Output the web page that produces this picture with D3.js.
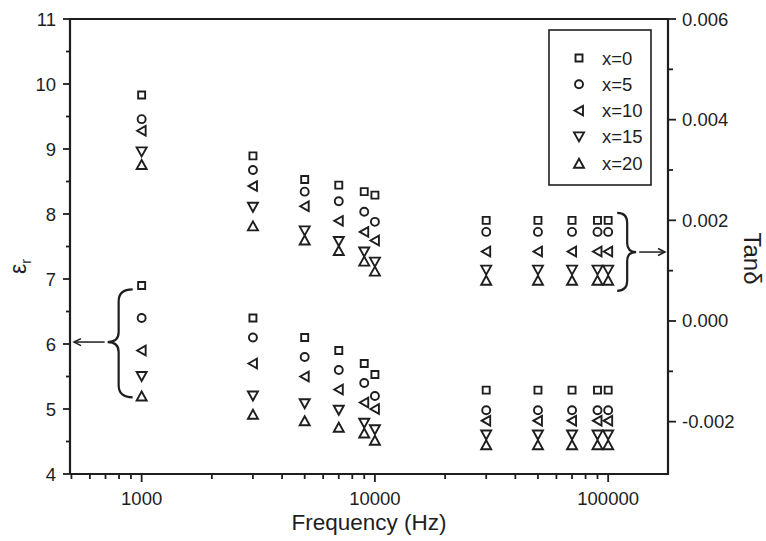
<!DOCTYPE html>
<html>
<head>
<meta charset="utf-8">
<script src="https://cdn.jsdelivr.net/npm/d3@7"></script>
<style>
  html, body { margin: 0; padding: 0; background: #fff; }
  svg { display: block; font-family: Arial, "Liberation Sans", Helvetica, sans-serif; }
</style>
</head>
<body>
<svg id="chart" width="766" height="541"></svg>
<script>
// ---------------- DATA ----------------
const freqs = [1000, 3000, 5000, 7000, 9000, 10000, 30000, 50000, 70000, 90000, 100000];
const seriesNames = ["x=0", "x=5", "x=10", "x=15", "x=20"];
const seriesSymbols = ["square", "circle", "triLeft", "triDown", "triUp"];

// Dielectric constant (left axis)
const epsX0  = [6.90, 6.40, 6.10, 5.90, 5.70, 5.53, 5.29, 5.29, 5.29, 5.29, 5.29];
const epsX5  = [6.40, 6.10, 5.80, 5.60, 5.40, 5.20, 4.98, 4.98, 4.98, 4.98, 4.98];
const epsX10 = [5.90, 5.70, 5.50, 5.30, 5.10, 5.00, 4.82, 4.82, 4.82, 4.82, 4.82];
const epsX15 = [5.50, 5.20, 5.08, 4.98, 4.78, 4.68, 4.60, 4.60, 4.60, 4.60, 4.60];
const epsX20 = [5.20, 4.92, 4.82, 4.72, 4.63, 4.52, 4.45, 4.45, 4.45, 4.45, 4.45];

// Loss tangent (right axis)
const tanX0  = [0.00449, 0.00328, 0.00281, 0.00270, 0.00257, 0.00250, 0.00200, 0.00200, 0.00200, 0.00200, 0.00200];
const tanX5  = [0.00401, 0.00300, 0.00257, 0.00238, 0.00217, 0.00197, 0.00177, 0.00177, 0.00177, 0.00177, 0.00177];
const tanX10 = [0.00378, 0.00268, 0.00228, 0.00199, 0.00177, 0.00160, 0.00138, 0.00138, 0.00138, 0.00138, 0.00138];
const tanX15 = [0.00336, 0.00226, 0.00179, 0.00158, 0.00137, 0.00117, 0.00101, 0.00101, 0.00101, 0.00101, 0.00101];
const tanX20 = [0.00311, 0.00189, 0.00161, 0.00140, 0.00119, 0.00099, 0.00081, 0.00081, 0.00081, 0.00081, 0.00081];

const epsSeries = [epsX0, epsX5, epsX10, epsX15, epsX20];
const tanSeries = [tanX0, tanX5, tanX10, tanX15, tanX20];

const xTickLabels = [1000, 10000, 100000];
const leftTicks = [4, 5, 6, 7, 8, 9, 10, 11];
const rightTicks = [-0.002, 0.000, 0.002, 0.004, 0.006];

// ---------------- LAYOUT ----------------
const ink = "#1e1e1e";
const svg = d3.select("#chart");
const L = 70, R = 668, T = 19, B = 474;

const x = d3.scaleLog().domain([493, 180500]).range([L, R]);
const yL = d3.scaleLinear().domain([4, 11]).range([B, T]);
const yR = d3.scaleLinear().domain([-0.00304, 0.006]).range([B, T]);

// symbol paths (bbox centered)
function symPath(type) {
  switch (type) {
    case "square": return "M-3.5,-3.5H3.5V3.5H-3.5Z";
    case "circle": return "M4,0A4,4 0 1,1 -4,0A4,4 0 1,1 4,0Z";
    case "triLeft": return "M-4.5,0L4,-4.8L4,4.8Z";
    case "triDown": return "M-5,-4.5L5,-4.5L0,4.5Z";
    case "triUp": return "M-5,4.5L5,4.5L0,-4.5Z";
  }
}
const mk = 1.9;

// ---------------- AXES ----------------
const gx = svg.append("g").attr("transform", `translate(0,${B})`);
const minorX = [];
[100, 1000, 10000].forEach(d => { for (let k = 2; k <= 9; k++) { const v = d * k; if (v > 493 && v < 180500) minorX.push(v); } });
gx.selectAll("line.minor").data(minorX).enter().append("line")
  .attr("x1", d => x(d)).attr("x2", d => x(d)).attr("y1", 0).attr("y2", 5)
  .attr("stroke", ink).attr("stroke-width", 1.8);
gx.selectAll("line.major").data(xTickLabels).enter().append("line")
  .attr("x1", d => x(d)).attr("x2", d => x(d)).attr("y1", 0).attr("y2", 8)
  .attr("stroke", ink).attr("stroke-width", 1.8);
gx.selectAll("text").data(xTickLabels).enter().append("text")
  .attr("x", d => x(d)).attr("y", 31).attr("text-anchor", "middle")
  .attr("font-size", 18.5).attr("fill", ink).text(d => d);

// left axis
const gl = svg.append("g").attr("transform", `translate(${L},0)`);
gl.selectAll("line.minor").data(d3.range(4.5, 11, 1)).enter().append("line")
  .attr("x1", -4).attr("x2", 0).attr("y1", d => yL(d)).attr("y2", d => yL(d))
  .attr("stroke", ink).attr("stroke-width", 1.8);
gl.selectAll("line.major").data(leftTicks).enter().append("line")
  .attr("x1", -7).attr("x2", 0).attr("y1", d => yL(d)).attr("y2", d => yL(d))
  .attr("stroke", ink).attr("stroke-width", 1.8);
gl.selectAll("text").data(leftTicks).enter().append("text")
  .attr("x", -14).attr("y", d => yL(d) + 6.5).attr("text-anchor", "end")
  .attr("font-size", 18.5).attr("fill", ink).text(d => d);

// right axis
const gr = svg.append("g").attr("transform", `translate(${R},0)`);
gr.selectAll("line.minor").data([-0.001, 0.001, 0.003, 0.005]).enter().append("line")
  .attr("x1", 0).attr("x2", 5).attr("y1", d => yR(d)).attr("y2", d => yR(d))
  .attr("stroke", ink).attr("stroke-width", 1.8);
gr.selectAll("line.major").data(rightTicks).enter().append("line")
  .attr("x1", 0).attr("x2", 8).attr("y1", d => yR(d)).attr("y2", d => yR(d))
  .attr("stroke", ink).attr("stroke-width", 1.8);
gr.selectAll("text").data(rightTicks).enter().append("text")
  .attr("x", 14).attr("y", d => yR(d) + 6.5).attr("text-anchor", "start")
  .attr("font-size", 18.5).attr("fill", ink).text(d => d3.format(".3f")(d).replace("−", "-"));

// frame
svg.append("path")
  .attr("d", `M${L},${B}V${T}H${R}V${B}H${L}`)
  .attr("fill", "none").attr("stroke", ink).attr("stroke-width", 2.2);

// titles
svg.append("text").attr("x", (L + R) / 2).attr("y", 530).attr("text-anchor", "middle")
  .attr("font-size", 22.5).attr("fill", ink).text("Frequency (Hz)");
const lt = svg.append("text").attr("transform", `translate(26,${(T + B) / 2 + 20}) rotate(-90)`)
  .attr("text-anchor", "middle").attr("font-size", 23).attr("fill", ink);
lt.append("tspan").text("ε");
lt.append("tspan").attr("font-size", 14).attr("dy", 5).text("r");
svg.append("text").attr("transform", `translate(744,${(T + B) / 2 + 12}) rotate(90)`)
  .attr("text-anchor", "middle").attr("font-size", 24).attr("fill", ink).text("Tanδ");

// ---------------- DATA MARKS ----------------
const plot = svg.append("g");
seriesNames.forEach((name, i) => {
  const g = plot.append("g");
  g.selectAll("path.eps").data(freqs.map((f, j) => ({ f, v: epsSeries[i][j] }))).enter().append("path")
    .attr("d", symPath(seriesSymbols[i]))
    .attr("transform", d => `translate(${x(d.f)},${yL(d.v)})`)
    .attr("fill", "none").attr("stroke", ink).attr("stroke-width", mk);
  g.selectAll("path.tan").data(freqs.map((f, j) => ({ f, v: tanSeries[i][j] }))).enter().append("path")
    .attr("d", symPath(seriesSymbols[i]))
    .attr("transform", d => `translate(${x(d.f)},${yR(d.v)})`)
    .attr("fill", "none").attr("stroke", ink).attr("stroke-width", mk);
});

// ---------------- BRACES & ARROWS ----------------
function arrowHead(g, xTip, yTip, dir) {
  g.append("path")
    .attr("d", `M${xTip - dir * 7},${yTip - 3.5}L${xTip},${yTip}L${xTip - dir * 7},${yTip + 3.5}`)
    .attr("fill", "none").attr("stroke", ink).attr("stroke-width", 1.5);
}
// left brace
{
  const bx = x(1000) - 9;
  const sx = x(1000) - 23;
  const tx = x(1000) - 34;
  const y0 = yL(6.84), y1 = yL(5.18), ym = yL(6.03);
  const g = svg.append("g");
  g.append("path")
    .attr("d", `M${bx},${y0} Q${sx},${y0} ${sx},${y0 + 12} L${sx},${ym - 10} Q${sx},${ym} ${tx},${ym} Q${sx},${ym} ${sx},${ym + 10} L${sx},${y1 - 12} Q${sx},${y1} ${bx},${y1}`)
    .attr("fill", "none").attr("stroke", ink).attr("stroke-width", 2.2);
  g.append("line").attr("x1", tx - 3).attr("x2", L + 4).attr("y1", ym).attr("y2", ym)
    .attr("stroke", ink).attr("stroke-width", 1.5);
  arrowHead(g, L + 4, ym, -1);
}
// right brace
{
  const bx = x(100000) + 9;
  const sx = x(100000) + 19;
  const tx = x(100000) + 28;
  const y0 = yR(0.00215), y1 = yR(0.00060), ym = yR(0.00137);
  const g = svg.append("g");
  g.append("path")
    .attr("d", `M${bx},${y0} Q${sx},${y0} ${sx},${y0 + 10} L${sx},${ym - 9} Q${sx},${ym} ${tx},${ym} Q${sx},${ym} ${sx},${ym + 9} L${sx},${y1 - 10} Q${sx},${y1} ${bx},${y1}`)
    .attr("fill", "none").attr("stroke", ink).attr("stroke-width", 2.2);
  g.append("line").attr("x1", tx + 3).attr("x2", R - 3).attr("y1", ym).attr("y2", ym)
    .attr("stroke", ink).attr("stroke-width", 1.5);
  arrowHead(g, R - 3, ym, 1);
}

// ---------------- LEGEND ----------------
const lg = svg.append("g");
lg.append("rect").attr("x", 549).attr("y", 30).attr("width", 102).attr("height", 155)
  .attr("fill", "#fff").attr("stroke", ink).attr("stroke-width", 1.6);
seriesNames.forEach((name, i) => {
  const yy = 58 + i * 26.3;
  lg.append("path").attr("d", symPath(seriesSymbols[i]))
    .attr("transform", `translate(579,${yy})`)
    .attr("fill", "none").attr("stroke", ink).attr("stroke-width", mk);
  lg.append("text").attr("x", 602).attr("y", yy + 6.5).attr("font-size", 18.5).attr("fill", ink).text(name);
});
</script>
</body>
</html>
